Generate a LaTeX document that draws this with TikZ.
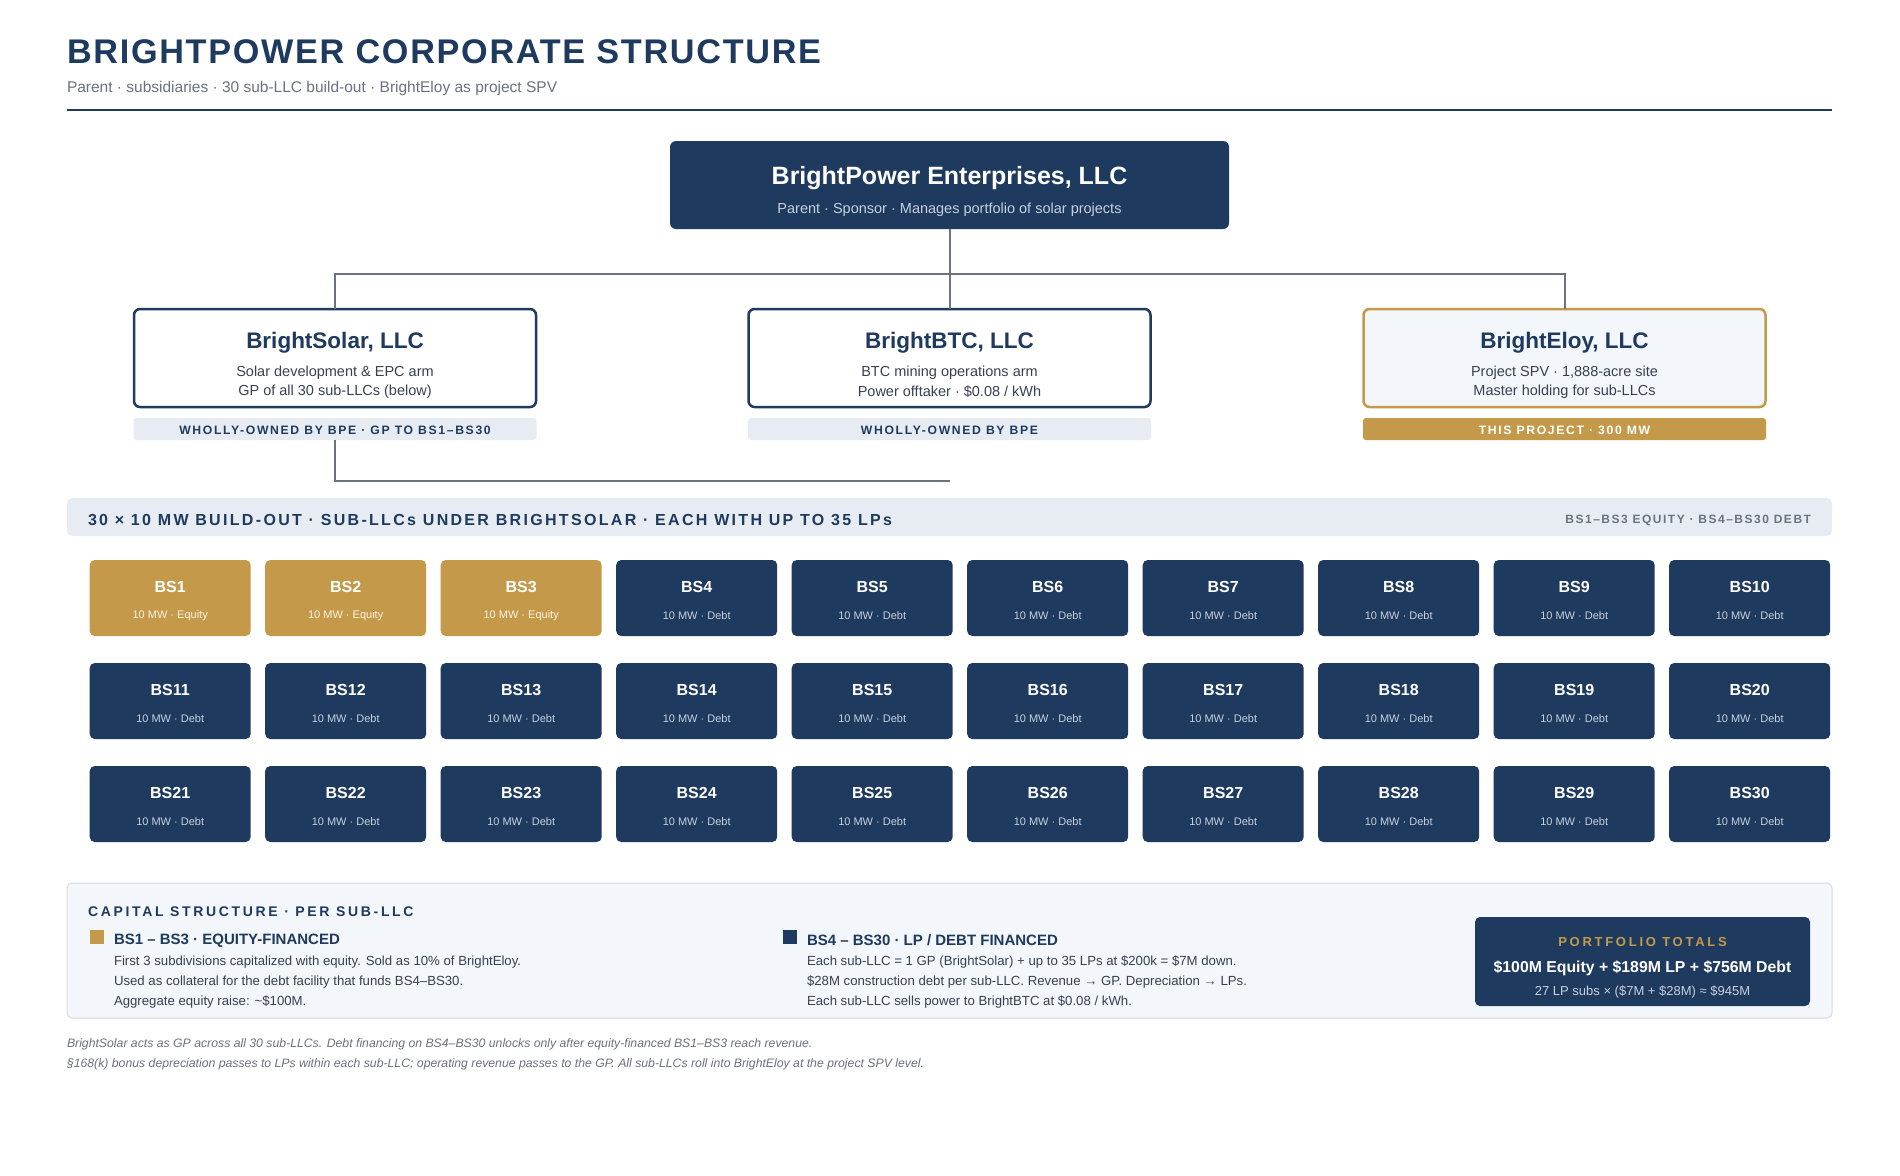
\documentclass[tikz,border=0pt]{standalone}
\usepackage{fontspec}
\setmainfont{Liberation Sans}
\usetikzlibrary{calc}
\definecolor{bpnavy}{HTML}{1F3A5F}
\definecolor{bpgold}{HTML}{C49A4A}
\definecolor{bpmist}{HTML}{E7ECF3}
\definecolor{bppale}{HTML}{F3F6FA}
\definecolor{bpgrey}{HTML}{6B7280}
\definecolor{bpink}{HTML}{374151}
\definecolor{bpline}{HTML}{D6DCE4}
\definecolor{bpsoft}{HTML}{C7D0DC}
\definecolor{bpcream}{HTML}{FBF3E2}
\newcommand{\bpsize}[1]{\fontsize{#1}{#1}\selectfont}
\newcommand{\bptrack}[1]{\addfontfeature{LetterSpace=#1}}

\begin{document}
\begin{tikzpicture}[x=1pt,y=-1pt,
  every node/.style={inner sep=0pt,outer sep=0pt},
  conn/.style={bpgrey,line width=2pt},
  parentbox/.style={fill=bpnavy,rounded corners=6pt,minimum width=559pt,minimum height=88pt},
  childbox/.style={draw=#1,line width=2.5pt,rounded corners=6pt,minimum width=402pt,minimum height=98pt},
  tagbox/.style={fill=#1,rounded corners=3pt,minimum width=403pt,minimum height=22pt},
  subbox/.style={fill=#1,rounded corners=5pt,minimum width=161pt,minimum height=76pt},
  keybox/.style={fill=#1,minimum size=14pt},
  childtitle/.style={text=bpnavy,font=\bfseries\bpsize{22.5}},
  childtext/.style={text=bpink,font=\bpsize{14.5}},
  tagtext/.style={text=#1,font=\bfseries\bpsize{12.2}\bptrack{13.5}},
  bodytext/.style={anchor=west,text=bpink,font=\bpsize{13.2}},
  foot/.style={anchor=west,text=bpgrey,font=\itshape\bpsize{12.25}}]

  \useasboundingbox[fill=white] (0,0) rectangle (1900,1175);

  \node[anchor=west,text=bpnavy,font=\bfseries\bpsize{34.2}\bptrack{5}] (title) at (67,52) {BRIGHTPOWER CORPORATE STRUCTURE};
  \node[anchor=west,text=bpgrey,font=\bpsize{15.5}] (subtitle) at (67,88.5) {Parent · subsidiaries · 30 sub-LLC build-out · BrightEloy as project SPV};
  \draw[bpnavy,line width=2pt] (67,110) -- (1832,110);

  \node[parentbox] (parent) at (949.5,185) {};
  \node[text=white,font=\bfseries\bpsize{25}] (parent-name) at (949.5,178.5) {BrightPower Enterprises, LLC};
  \node[text=bpsoft,font=\bpsize{14.5}] (parent-role) at (949.5,209.5) {Parent · Sponsor · Manages portfolio of solar projects};

  \node[childbox=bpnavy,fill=white] (solar) at (335,358) {};
  \node[childtitle] (solar-name) at (335,342.5) {BrightSolar, LLC};
  \node[childtext] (solar-l1) at (335,372.5) {Solar development \& EPC arm};
  \node[childtext] (solar-l2) at (335,391.5) {GP of all 30 sub-LLCs (below)};
  \node[tagbox=bpmist] (solartag) at (335,429) {};
  \node[tagtext=bpnavy] (solartag-text) at (335,430.5) {WHOLLY-OWNED BY BPE · GP TO BS1–BS30};

  \node[childbox=bpnavy,fill=white] (btc) at (949.5,358) {};
  \node[childtitle] (btc-name) at (949.5,342.5) {BrightBTC, LLC};
  \node[childtext] (btc-l1) at (949.5,372.5) {BTC mining operations arm};
  \node[childtext] (btc-l2) at (949.5,391.5) {Power offtaker · \$0.08 / kWh};
  \node[tagbox=bpmist] (btctag) at (949.5,429) {};
  \node[tagtext=bpnavy] (btctag-text) at (949.5,430.5) {WHOLLY-OWNED BY BPE};

  \node[childbox=bpgold,fill=bppale] (eloy) at (1564.5,358) {};
  \node[childtitle] (eloy-name) at (1564.5,342.5) {BrightEloy, LLC};
  \node[childtext] (eloy-l1) at (1564.5,372.5) {Project SPV · 1,888-acre site};
  \node[childtext] (eloy-l2) at (1564.5,391.5) {Master holding for sub-LLCs};
  \node[tagbox=bpgold] (eloytag) at (1564.5,429) {};
  \node[tagtext=white] (eloytag-text) at (1564.5,430.5) {THIS PROJECT · 300 MW};

  \coordinate (split) at (949.5,274);
  \coordinate (gridjoin) at (949.5,481);
  \draw[conn] (parent.south) -- (split);
  \draw[conn] (split) -| (solar.north);
  \draw[conn] (split) -- (btc.north);
  \draw[conn] (split) -| (eloy.north);
  \draw[conn] (solartag.south) |- (gridjoin);

  \node[fill=bpmist,rounded corners=5pt,minimum width=1765pt,minimum height=38pt] (banner) at (949.5,517) {};
  \node[anchor=west,text=bpnavy,font=\bfseries\bpsize{16}\bptrack{14.5}] (banner-left) at (88,520) {30 × 10 MW BUILD-OUT · SUB-LLCs UNDER BRIGHTSOLAR · EACH WITH UP TO 35 LPs};
  \node[anchor=east,text=bpgrey,font=\bfseries\bpsize{12}\bptrack{12.5}] (banner-right) at (1811,520) {BS1–BS3 EQUITY · BS4–BS30 DEBT};

  \foreach \n in {1,...,30}{
    \pgfmathtruncatemacro{\col}{mod(\n-1,10)}
    \pgfmathtruncatemacro{\row}{div(\n-1,10)}
    \ifnum\n<4 \def\boxcol{bpgold}\def\subcol{bpcream}\def\fin{Equity}
    \else \def\boxcol{bpnavy}\def\subcol{bpsoft}\def\fin{Debt}\fi
    \node[subbox=\boxcol] (bs\n) at (170.2+175.5*\col,598+103*\row) {};
    \node[text=white,font=\bfseries\bpsize{16}] (bs\n-name) at ($(bs\n.center)+(0,-11.5)$) {BS\n};
    \node[text=\subcol,font=\bpsize{11}] (bs\n-sub) at ($(bs\n.center)+(0,18)$) {10 MW · \fin};
  }

  \node[fill=bppale,draw=bpline,line width=1pt,rounded corners=5pt,minimum width=1765pt,minimum height=135pt] (capital) at (949.5,950.5) {};
  \node[anchor=west,text=bpnavy,font=\bfseries\bpsize{14}\bptrack{19}] (capital-head) at (88,911.5) {CAPITAL STRUCTURE · PER SUB-LLC};

  \node[keybox=bpgold] (eqkey) at (97,936.5) {};
  \node[anchor=west,text=bpnavy,font=\bfseries\bpsize{15}] (eq-head) at (114,940.5) {BS1 – BS3 · EQUITY-FINANCED};
  \node[bodytext] (eq-l1) at (114,962) {First 3 subdivisions capitalized with equity. Sold as 10\% of BrightEloy.};
  \node[bodytext] (eq-l2) at (114,982) {Used as collateral for the debt facility that funds BS4–BS30.};
  \node[bodytext] (eq-l3) at (114,1002) {Aggregate equity raise: \textasciitilde\$100M.};

  \node[keybox=bpnavy] (lpkey) at (790,936.5) {};
  \node[anchor=west,text=bpnavy,font=\bfseries\bpsize{15}] (lp-head) at (807,940.5) {BS4 – BS30 · LP / DEBT FINANCED};
  \node[bodytext] (lp-l1) at (807,962) {Each sub-LLC = 1 GP (BrightSolar) + up to 35 LPs at \$200k = \$7M down.};
  \node[bodytext] (lp-l2) at (807,982) {\$28M construction debt per sub-LLC. Revenue → GP. Depreciation → LPs.};
  \node[bodytext] (lp-l3) at (807,1002) {Each sub-LLC sells power to BrightBTC at \$0.08 / kWh.};

  \node[fill=bpnavy,rounded corners=5pt,minimum width=335pt,minimum height=89pt] (totals) at (1642.5,961.5) {};
  \node[text=bpgold,font=\bfseries\bpsize{13}\bptrack{21}] (totals-head) at (1642.5,942.5) {PORTFOLIO TOTALS};
  \node[text=white,font=\bfseries\bpsize{15.8}] (totals-sum) at (1642.5,968.5) {\$100M Equity + \$189M LP + \$756M Debt};
  \node[text=bpsoft,font=\bpsize{13}] (totals-calc) at (1642.5,992.5) {27 LP subs × (\$7M + \$28M) ≈ \$945M};

  \node[foot] (foot-1) at (67,1044.5) {BrightSolar acts as GP across all 30 sub-LLCs. Debt financing on BS4–BS30 unlocks only after equity-financed BS1–BS3 reach revenue.};
  \node[foot] (foot-2) at (67,1064.5) {§168(k) bonus depreciation passes to LPs within each sub-LLC; operating revenue passes to the GP. All sub-LLCs roll into BrightEloy at the project SPV level.};
\end{tikzpicture}
\end{document}
